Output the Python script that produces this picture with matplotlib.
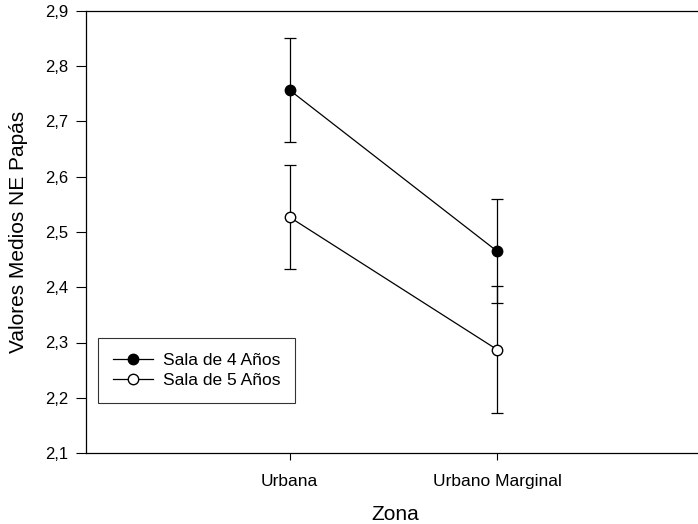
import matplotlib
matplotlib.use("Agg")
import matplotlib.pyplot as plt
from matplotlib.lines import Line2D
from matplotlib.ticker import FuncFormatter

plt.rcParams['font.family'] = ['Liberation Sans', 'DejaVu Sans']

zonas = ["Urbana", "Urbano Marginal"]
sala4 = [2.757, 2.465]
sala4_err = [0.094, 0.094]
sala5 = [2.527, 2.287]
sala5_err = [0.094, 0.115]
series_labels = ["Sala de 4 Años", "Sala de 5 Años"]

fig = plt.figure(figsize=(6.98, 5.24), dpi=100)
ax = fig.add_axes([86 / 698, 71 / 524, 1 - 86 / 698 + 0.001, 442 / 524])

xpos = [1, 2]
ax.errorbar(xpos, sala4, yerr=sala4_err, color='black', lw=0.9, marker='o',
            ms=7.5, mfc='black', mec='black', capsize=4.6, capthick=0.9,
            elinewidth=0.9, zorder=3)
ax.errorbar(xpos, sala5, yerr=sala5_err, color='black', lw=0.9, marker='o',
            ms=7.5, mfc='white', mec='black', capsize=4.6, capthick=0.9,
            elinewidth=0.9, zorder=3)

ax.set_xlim(0.02, 2.97)
ax.set_ylim(2.1, 2.9)
ax.set_xticks(xpos)
ax.set_xticklabels(zonas, fontsize=12.5)
ax.set_yticks([2.1, 2.2, 2.3, 2.4, 2.5, 2.6, 2.7, 2.8, 2.9])
ax.yaxis.set_major_formatter(FuncFormatter(lambda v, p: f"{v:.1f}".replace(".", ",")))
ax.tick_params(axis='y', direction='out', length=7, width=0.8, labelsize=12, pad=6)
ax.tick_params(axis='x', direction='out', length=5, width=0.8, pad=10)

ax.spines['right'].set_visible(False)
for s in ['left', 'top', 'bottom']:
    ax.spines[s].set_linewidth(0.9)

ax.set_xlabel("Zona", fontsize=15)
ax.xaxis.set_label_coords(0.505, -0.117)
ax.set_ylabel("Valores Medios NE Papás", fontsize=15)
ax.yaxis.set_label_coords(-0.094, 0.5)

handles = [
    Line2D([], [], color='black', lw=0.9, marker='o', ms=7.5, mfc='black', mec='black'),
    Line2D([], [], color='black', lw=0.9, marker='o', ms=7.5, mfc='white', mec='black'),
]
leg = ax.legend(handles, series_labels, loc='upper left',
                bbox_to_anchor=(98 / 698, (524 - 338) / 524),
                bbox_transform=fig.transFigure, fontsize=12.5, frameon=True,
                fancybox=False, edgecolor='black', handlelength=2.3,
                borderpad=0.85, borderaxespad=0, labelspacing=0.3,
                handletextpad=0.6)
leg.get_frame().set_linewidth(0.8)

fig.savefig("out.png", dpi=100)
